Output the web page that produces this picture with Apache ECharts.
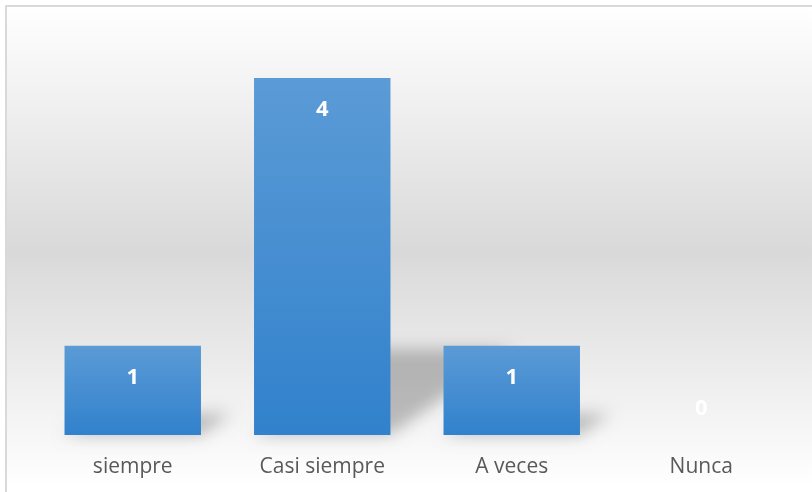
<!DOCTYPE html>
<html>
<head>
<meta charset="utf-8">
<script src="https://cdn.jsdelivr.net/npm/echarts@6/dist/echarts.min.js"></script>
<style>
html,body{margin:0;padding:0;background:#fff;}
#chart{width:812px;height:492px;}
</style>
</head>
<body>
<div id="chart"></div>
<script>
var categories = ['siempre', 'Casi siempre', 'A veces', 'Nunca'];
var values = [1, 4, 1, 0];

var chart = echarts.init(document.getElementById('chart'));
var barFrac = 0.72;

var option = {
  animation: false,
  graphic: [{
    type: 'rect',
    z: -10,
    silent: true,
    shape: { x: 6, y: 6, width: 900, height: 600 },
    style: {
      fill: new echarts.graphic.LinearGradient(0, 0, 0, 1, [
        { offset: 0, color: '#ffffff' },
        { offset: 0.41, color: '#d9d9d9' },
        { offset: 0.8, color: '#ffffff' },
        { offset: 1, color: '#ffffff' }
      ]),
      stroke: '#d9d9d9',
      lineWidth: 2
    }
  }],
  grid: { left: 38, right: 16, top: 78, bottom: 57, containLabel: false },
  xAxis: {
    type: 'category',
    data: categories,
    axisLine: { show: false },
    axisTick: { show: false },
    axisLabel: {
      margin: 22,
      color: '#595959',
      fontSize: 21,
      fontFamily: 'Open Sans'
    }
  },
  yAxis: {
    type: 'value',
    min: 0,
    max: 4,
    show: false,
    splitLine: { show: false }
  },
  series: [
    {
      type: 'custom',
      z: 1,
      silent: true,
      data: values.map(function (v, i) { return [i, v]; }),
      renderItem: function (params, api) {
        var i = api.value(0), v = api.value(1);
        if (!v) return null;
        var base = api.coord([i, 0]);
        var top = api.coord([i, v]);
        var w = api.size([1, 0])[0] * barFrac;
        var h = base[1] - top[1];
        var xL = base[0] - w / 2, xR = base[0] + w / 2, y0 = base[1];
        var dy = h * 0.24, dx = h * 0.34;
        var off = 3000;
        return {
          type: 'polygon',
          shape: { points: [[xL - off, y0], [xR - off, y0], [xR + dx - off, y0 - dy], [xL + dx - off, y0 - dy]] },
          style: {
            fill: 'rgba(0,0,0,1)',
            shadowColor: 'rgba(0,0,0,0.24)',
            shadowBlur: 16,
            shadowOffsetX: off,
            shadowOffsetY: 0
          }
        };
      }
    },
    {
      type: 'bar',
      z: 2,
      data: values,
      barWidth: '72%',
      itemStyle: {
        color: new echarts.graphic.LinearGradient(0, 0, 0, 1, [
          { offset: 0, color: '#5b9bd6' },
          { offset: 1, color: '#3181cc' }
        ])
      },
      label: {
        show: true,
        position: 'insideTop',
        distance: 21,
        color: '#ffffff',
        fontSize: 22,
        fontWeight: 'bold',
        fontFamily: 'Open Sans',
        formatter: function (p) { return p.value; }
      }
    }
  ]
};
// zero-value label sits above the baseline
option.series[1].data = values.map(function (v) {
  if (v === 0) {
    return { value: v, label: { position: 'top', distance: 15 } };
  }
  return v;
});
chart.setOption(option);
</script>
</body>
</html>
